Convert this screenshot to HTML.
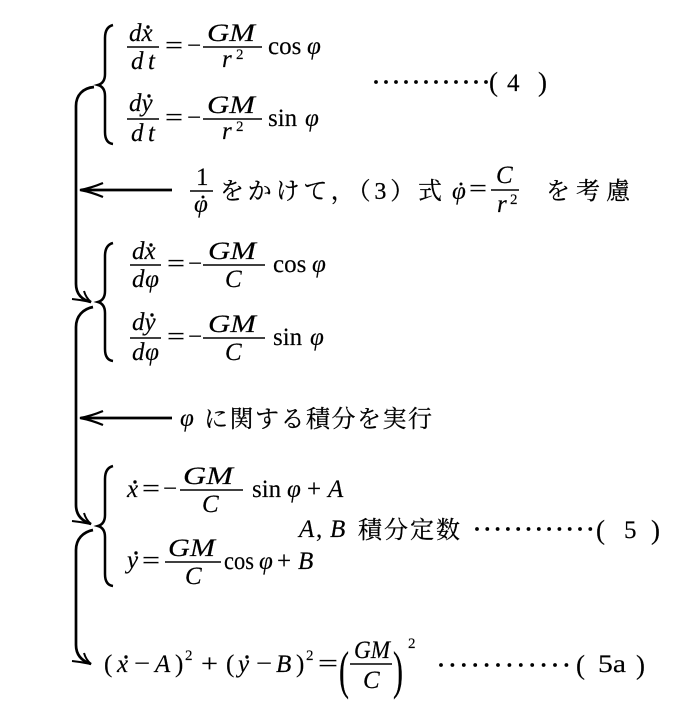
<!DOCTYPE html>
<html>
<head>
<meta charset="utf-8">
<style>
html,body{margin:0;padding:0;background:#fff;}
svg{display:block;}
.m{font-family:"Liberation Serif",serif;font-size:25px;fill:#000;stroke:#000;stroke-width:0.15;}
.i{font-style:italic;}
.s{font-family:"Liberation Serif",serif;font-size:15px;fill:#000;stroke:#000;stroke-width:0.15;}
.j{font-family:"Liberation Serif","Noto Serif CJK SC","Noto Sans CJK JP",serif;font-size:24px;fill:#000;stroke:#000;stroke-width:0.25;}
.ln{stroke:#000;fill:none;}
</style>
</head>
<body>
<svg width="685" height="704" viewBox="0 0 685 704" xmlns="http://www.w3.org/2000/svg">
<rect width="685" height="704" fill="#fff"/>

<!-- ===== Braces ===== -->
<path class="ln" stroke-width="2.5" d="M113,25 Q105,27 105,38 L105,74 Q105,83 98,85 Q105,87 105,96 L105,132 Q105,143 113,144"/>
<path class="ln" stroke-width="2.5" d="M113,243 Q105,245 105,256 L105,291 Q105,300 98,302 Q105,304 105,313 L105,349 Q105,360 113,361"/>
<path class="ln" stroke-width="2.5" d="M113,466 Q105,468 105,479 L105,515 Q105,524 98,526 Q105,528 105,537 L105,574 Q105,585 113,586"/>

<!-- ===== Connectors ===== -->
<path class="ln" stroke-width="2.7" d="M94,87 C83,88 76,95 76,106 L76,284 C76,294 82,300 91,302"/>
<path class="ln" stroke-width="2" d="M84,291 Q86,298 91,302 Q82,300 72,299"/>
<path class="ln" stroke-width="2.7" d="M93,307 C83,309 76,316 76,327 L76,505 C76,515 82,521 91,524"/>
<path class="ln" stroke-width="2" d="M84,513 Q86,520 91,524 Q82,522 72,521"/>
<path class="ln" stroke-width="2.7" d="M93,530 C83,532 76,539 76,550 L76,645 C76,655 82,661 91,664"/>
<path class="ln" stroke-width="2" d="M84,653 Q86,660 91,664 Q82,662 72,661"/>

<!-- Horizontal arrows -->
<line class="ln" stroke-width="2.7" x1="81" y1="190" x2="172" y2="190"/>
<path class="ln" stroke-width="2.2" d="M103,183 Q91,188 80,190 Q91,192 103,197"/>
<line class="ln" stroke-width="2.7" x1="81" y1="418" x2="172" y2="418"/>
<path class="ln" stroke-width="2.2" d="M103,411 Q91,416 80,418 Q91,420 103,425"/>

<!-- ===== System 1 ===== -->
<text class="m i" x="129" y="41">dx</text>
<circle cx="148" cy="27" r="1.7"/>
<line class="ln" stroke-width="1.6" x1="127" y1="47" x2="159" y2="47"/>
<text class="m i" x="131" y="69" textLength="24" lengthAdjust="spacing">dt</text>
<text class="m" x="165" y="53.5" textLength="18" lengthAdjust="spacingAndGlyphs">=</text>
<text class="m" x="187" y="53.5">−</text>
<text class="m i" x="207" y="41" textLength="48" lengthAdjust="spacingAndGlyphs">GM</text>
<line class="ln" stroke-width="1.6" x1="203" y1="47" x2="262" y2="47"/>
<text class="m i" x="222" y="67">r</text>
<text class="s" x="236" y="59">2</text>
<text class="m" x="268" y="54">cos</text>
<text class="m i" x="307" y="54">φ</text>

<text class="m i" x="129" y="111">dy</text>
<circle cx="149" cy="96" r="1.7"/>
<line class="ln" stroke-width="1.6" x1="127" y1="119" x2="159" y2="119"/>
<text class="m i" x="131" y="141" textLength="24" lengthAdjust="spacing">dt</text>
<text class="m" x="165" y="125.5" textLength="18" lengthAdjust="spacingAndGlyphs">=</text>
<text class="m" x="187" y="125.5">−</text>
<text class="m i" x="207" y="113" textLength="48" lengthAdjust="spacingAndGlyphs">GM</text>
<line class="ln" stroke-width="1.6" x1="203" y1="119" x2="262" y2="119"/>
<text class="m i" x="222" y="139">r</text>
<text class="s" x="236" y="131">2</text>
<text class="m" x="268" y="126">sin</text>
<text class="m i" x="305" y="126">φ</text>

<!-- dots (4) -->
<g>
<circle cx="376" cy="82" r="1.9"/><circle cx="386" cy="82" r="1.9"/><circle cx="396" cy="82" r="1.9"/><circle cx="406" cy="82" r="1.9"/>
<circle cx="416" cy="82" r="1.9"/><circle cx="426" cy="82" r="1.9"/><circle cx="436" cy="82" r="1.9"/><circle cx="446" cy="82" r="1.9"/>
<circle cx="456" cy="82" r="1.9"/><circle cx="466" cy="82" r="1.9"/><circle cx="476" cy="82" r="1.9"/><circle cx="486" cy="82" r="1.9"/>
</g>
<text class="m" x="489" y="91" style="font-size:27px">(</text>
<text class="m" x="507" y="91">4</text>
<text class="m" x="538" y="91" style="font-size:27px">)</text>

<!-- ===== Arrow 1 text ===== -->
<text class="m" x="196" y="185">1</text>
<line class="ln" stroke-width="1.6" x1="190" y1="191" x2="213" y2="191"/>
<text class="m i" x="194" y="212">φ</text>
<circle cx="203" cy="197" r="1.5"/>
<text class="j" x="220" y="199" textLength="222" lengthAdjust="spacing">をかけて，（3）式</text>
<text class="m i" x="452" y="199">φ</text>
<circle cx="461" cy="184" r="1.5"/>
<text class="m" x="469" y="196.5" textLength="18" lengthAdjust="spacingAndGlyphs">=</text>
<text class="m i" x="496" y="183">C</text>
<line class="ln" stroke-width="1.6" x1="491" y1="190" x2="519" y2="190"/>
<text class="m i" x="497" y="212">r</text>
<text class="s" x="510" y="204">2</text>
<text class="j" x="546" y="199" textLength="84" lengthAdjust="spacing">を考慮</text>

<!-- ===== System 2 ===== -->
<text class="m i" x="132" y="259">dx</text>
<circle cx="151" cy="245" r="1.7"/>
<line class="ln" stroke-width="1.6" x1="130" y1="265" x2="161" y2="265"/>
<text class="m i" x="132" y="287" textLength="27" lengthAdjust="spacing">dφ</text>
<text class="m" x="167" y="271.5" textLength="18" lengthAdjust="spacingAndGlyphs">=</text>
<text class="m" x="188" y="271.5">−</text>
<text class="m i" x="208" y="259" textLength="48" lengthAdjust="spacingAndGlyphs">GM</text>
<line class="ln" stroke-width="1.6" x1="203" y1="265" x2="265" y2="265"/>
<text class="m i" x="225" y="287">C</text>
<text class="m" x="273" y="272">cos</text>
<text class="m i" x="312" y="272">φ</text>

<text class="m i" x="132" y="330">dy</text>
<circle cx="152" cy="315" r="1.7"/>
<line class="ln" stroke-width="1.6" x1="130" y1="338" x2="161" y2="338"/>
<text class="m i" x="132" y="360" textLength="27" lengthAdjust="spacing">dφ</text>
<text class="m" x="167" y="344.5" textLength="18" lengthAdjust="spacingAndGlyphs">=</text>
<text class="m" x="188" y="344.5">−</text>
<text class="m i" x="208" y="332" textLength="48" lengthAdjust="spacingAndGlyphs">GM</text>
<line class="ln" stroke-width="1.6" x1="203" y1="338" x2="265" y2="338"/>
<text class="m i" x="225" y="360">C</text>
<text class="m" x="273" y="345">sin</text>
<text class="m i" x="310" y="345">φ</text>

<!-- ===== Arrow 2 text ===== -->
<text class="m i" x="180" y="426">φ</text>
<text class="j" x="204" y="427" textLength="228" lengthAdjust="spacing">に関する積分を実行</text>

<!-- ===== System 3 ===== -->
<text class="m i" x="127" y="497">x</text>
<circle cx="135" cy="482" r="1.7"/>
<text class="m" x="142" y="496.5" textLength="18" lengthAdjust="spacingAndGlyphs">=</text>
<text class="m" x="163" y="496.5">−</text>
<text class="m i" x="183" y="484" textLength="50" lengthAdjust="spacingAndGlyphs">GM</text>
<line class="ln" stroke-width="1.6" x1="180" y1="490" x2="243" y2="490"/>
<text class="m i" x="202" y="512">C</text>
<text class="m" x="252" y="497">sin</text>
<text class="m i" x="287" y="497">φ</text>
<text class="m" x="307" y="497">+</text>
<text class="m i" x="328" y="497">A</text>

<text class="m i" x="299" y="537">A</text>
<text class="m" x="316" y="537">,</text>
<text class="m i" x="330" y="537">B</text>
<text class="j" x="358" y="538" textLength="102" lengthAdjust="spacing">積分定数</text>
<g>
<circle cx="477" cy="529" r="1.9"/><circle cx="487.3" cy="529" r="1.9"/><circle cx="497.6" cy="529" r="1.9"/><circle cx="507.9" cy="529" r="1.9"/>
<circle cx="518.2" cy="529" r="1.9"/><circle cx="528.5" cy="529" r="1.9"/><circle cx="538.8" cy="529" r="1.9"/><circle cx="549.1" cy="529" r="1.9"/>
<circle cx="559.4" cy="529" r="1.9"/><circle cx="569.7" cy="529" r="1.9"/><circle cx="580" cy="529" r="1.9"/><circle cx="590.3" cy="529" r="1.9"/>
</g>
<text class="m" x="596" y="539" style="font-size:27px">(</text>
<text class="m" x="624" y="538">5</text>
<text class="m" x="651" y="539" style="font-size:27px">)</text>

<text class="m i" x="127" y="568">y</text>
<circle cx="136" cy="553" r="1.7"/>
<text class="m" x="142" y="568.5" textLength="18" lengthAdjust="spacingAndGlyphs">=</text>
<text class="m i" x="168" y="556" textLength="47" lengthAdjust="spacingAndGlyphs">GM</text>
<line class="ln" stroke-width="1.6" x1="165" y1="562" x2="221" y2="562"/>
<text class="m i" x="185" y="584">C</text>
<text class="m" x="224" y="569" textLength="30" lengthAdjust="spacingAndGlyphs">cos</text>
<text class="m i" x="259" y="569">φ</text>
<text class="m" x="277" y="569">+</text>
<text class="m i" x="298" y="569">B</text>

<!-- ===== Bottom equation ===== -->
<text class="m" x="104" y="672">(</text>
<text class="m i" x="117" y="672">x</text>
<circle cx="126" cy="657" r="1.7"/>
<text class="m" x="134" y="671.5" textLength="16" lengthAdjust="spacingAndGlyphs">−</text>
<text class="m i" x="155" y="672">A</text>
<text class="m" x="175" y="672">)</text>
<text class="s" x="185" y="660">2</text>
<text class="m" x="201" y="672" textLength="17" lengthAdjust="spacingAndGlyphs">+</text>
<text class="m" x="226" y="672">(</text>
<text class="m i" x="238" y="672">y</text>
<circle cx="247" cy="657" r="1.7"/>
<text class="m" x="256" y="671.5" textLength="16" lengthAdjust="spacingAndGlyphs">−</text>
<text class="m i" x="276" y="672">B</text>
<text class="m" x="296" y="672">)</text>
<text class="s" x="306" y="660">2</text>
<text class="m" x="318" y="671.5" textLength="20" lengthAdjust="spacingAndGlyphs">=</text>
<text class="m" transform="translate(339,688) scale(1,1.75)" style="font-size:30px">(</text>
<text class="m i" x="354" y="658" textLength="36" lengthAdjust="spacingAndGlyphs">GM</text>
<line class="ln" stroke-width="1.6" x1="350" y1="664" x2="392" y2="664"/>
<text class="m i" x="363" y="688">C</text>
<text class="m" transform="translate(393,688) scale(1,1.75)" style="font-size:30px">)</text>
<text class="s" x="408" y="648">2</text>
<g>
<circle cx="441" cy="665" r="1.9"/><circle cx="452.4" cy="665" r="1.9"/><circle cx="463.8" cy="665" r="1.9"/><circle cx="475.2" cy="665" r="1.9"/>
<circle cx="486.6" cy="665" r="1.9"/><circle cx="498" cy="665" r="1.9"/><circle cx="509.4" cy="665" r="1.9"/><circle cx="520.8" cy="665" r="1.9"/>
<circle cx="532.2" cy="665" r="1.9"/><circle cx="543.6" cy="665" r="1.9"/><circle cx="555" cy="665" r="1.9"/><circle cx="566.4" cy="665" r="1.9"/>
</g>
<text class="m" x="576" y="674" style="font-size:27px">(</text>
<text class="m" x="598" y="672" textLength="28" lengthAdjust="spacingAndGlyphs">5a</text>
<text class="m" x="636" y="674" style="font-size:27px">)</text>
</svg>
</body>
</html>
